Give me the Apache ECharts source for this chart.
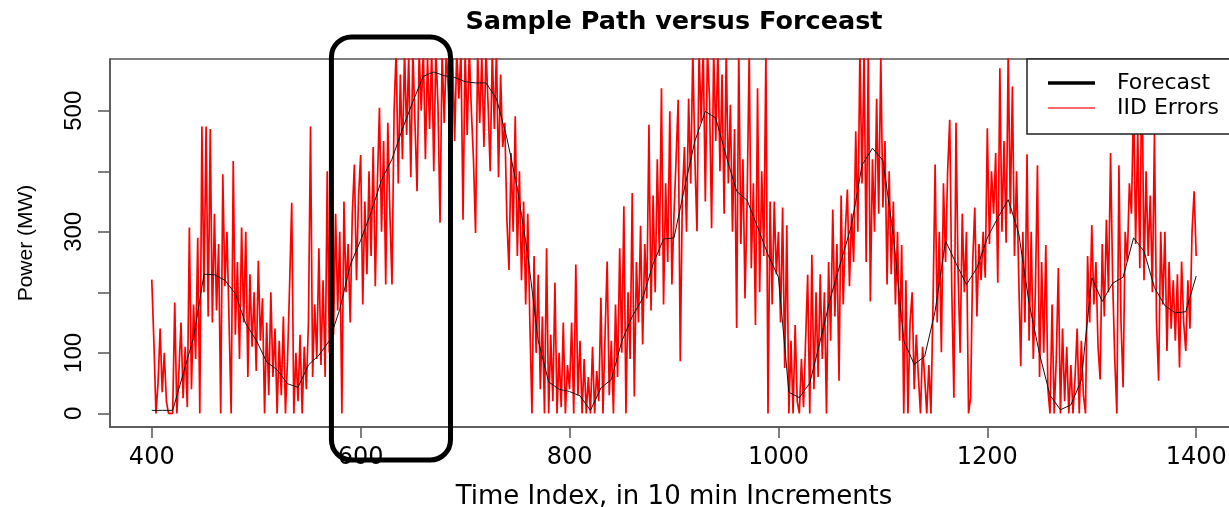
<!DOCTYPE html>
<html><head><meta charset="utf-8">
<script src="https://cdn.jsdelivr.net/npm/echarts@6/dist/echarts.min.js"></script>
<style>html,body{margin:0;padding:0;background:#fff}#c{width:1229px;height:507px}</style>
</head><body><div id="c"></div>
<script>
const titleText = 'Sample Path versus Forceast';
const xName = 'Time Index, in 10 min Increments';
const yName = 'Power (MW)';
const xTicks = [400, 600, 800, 1000, 1200, 1400];
const yTicks = [0, 100, 200, 300, 400, 500];
const yTickLabels = [0, 100, 300, 500];
const seriesNames = ['Forecast', 'IID Errors'];

// Forecast: time index 400..1400, every 10
const forecastStart = 400, forecastStep = 10;
const forecastValues = [
  5,5,5,65,125,230,229,220,198,148,
  121,85,72,49,43,80,96,120,172,245,
  286,332,386,420,470,515,557,564,558,555,
  548,546,546,520,455,372,262,120,52,40,
  36,29,5,42,56,119,160,190,247,288,
  290,372,450,499,488,425,367,352,308,262,
  225,35,26,50,120,192,252,311,410,438,
  418,295,120,81,94,169,285,248,213,240,
  290,323,353,298,182,98,30,6,14,55,
  224,185,215,225,290,268,208,178,166,168,
  227
];

// Sample path with IID errors: time index 400..1400, every 2
const errorStart = 400, errorStep = 2;
const errorValues = [
  221,120,0,50,140,35,100,20,0,0,
  0,183,0,70,150,25,110,10,307,40,
  180,90,290,0,474,200,474,160,470,150,
  330,170,280,0,395,210,300,150,0,417,
  130,250,90,307,150,300,60,230,110,200,
  70,252,120,190,0,150,30,200,60,140,
  0,120,30,160,0,90,214,348,0,100,
  20,130,0,110,40,150,474,60,180,90,
  273,80,220,60,400,100,250,130,330,170,
  300,0,350,200,280,150,330,411,220,360,
  427,180,350,230,400,260,440,210,380,505,
  300,450,213,480,330,213,500,600,380,560,
  420,600,460,590,390,600,480,367,600,500,
  600,420,590,470,600,400,600,510,315,600,
  480,600,530,394,600,450,600,520,600,320,
  600,460,600,500,420,298,600,480,590,440,
  600,510,400,600,470,600,390,560,440,480,
  320,237,430,300,491,260,400,220,350,180,
  330,150,0,260,100,229,40,160,0,273,
  0,130,20,216,0,100,10,150,0,80,
  40,150,0,246,30,120,0,90,0,60,
  0,110,0,70,20,191,0,130,251,30,
  120,0,180,60,273,100,342,0,200,90,
  364,28,250,150,310,114,280,190,477,170,
  360,200,420,260,537,180,380,250,499,213,
  330,420,518,86,360,440,300,520,380,600,
  420,301,600,480,600,350,600,520,306,600,
  450,600,400,560,330,600,380,510,300,470,
  141,600,280,420,190,350,600,240,380,146,
  537,200,400,260,600,0,350,180,350,230,
  300,150,340,75,311,0,120,0,146,20,
  0,90,10,120,229,0,262,40,200,60,
  230,90,200,0,250,120,337,160,280,54,
  360,180,300,370,210,330,250,466,300,600,
  380,600,250,600,185,420,300,520,330,590,
  340,450,213,400,230,350,180,300,120,278,
  0,220,0,150,200,40,130,60,0,110,
  60,0,80,0,180,411,150,300,101,380,
  250,400,485,200,26,480,230,100,330,200,
  300,0,26,250,340,160,280,220,300,224,
  471,280,400,330,430,216,570,300,450,282,
  600,330,540,260,400,230,78,300,150,428,
  120,300,90,200,410,60,250,100,278,40,
  0,180,0,90,240,0,140,20,110,0,
  80,0,60,140,0,120,30,0,260,150,
  311,180,250,110,56,280,160,320,200,430,
  220,90,0,410,150,43,300,251,380,330,
  520,280,466,240,600,220,400,260,360,200,
  463,150,54,300,180,300,103,250,140,220,
  120,230,76,251,150,103,220,140,300,367,
  260
];

// Highlight box annotation (in data units: time index / MW)
const annotationBox = { t0: 572, t1: 686, v0: -77, v1: 622 };

const forecastData = forecastValues.map((v, i) => [forecastStart + i * forecastStep, v]);
const errorData = errorValues.map((v, i) => [errorStart + i * errorStep, v]);

const chart = echarts.init(document.getElementById('c'), null, { renderer: 'canvas' });
const frameColor = '#555';
chart.setOption({
  animation: false,
  backgroundColor: '#fff',
  title: {
    text: titleText, left: 674, top: 9, textAlign: 'center', padding: 0,
    textStyle: { fontFamily: 'DejaVu Sans', fontWeight: 'bold', fontSize: 25.5, color: '#000' }
  },
  grid: {
    left: 110, top: 59, width: 1128, height: 368, containLabel: false, outerBoundsMode: 'none',
    show: true, borderColor: frameColor, borderWidth: 1.5, backgroundColor: 'transparent'
  },
  legend: {
    orient: 'vertical', left: 1027, top: 59, selectedMode: false,
    padding: [13, 70, 15, 21], itemGap: 3, itemWidth: 47, itemHeight: 22,
    backgroundColor: '#fff', borderColor: '#222', borderWidth: 1.5,
    textStyle: { fontFamily: 'DejaVu Sans', fontSize: 22, color: '#000', padding: [0, 0, 0, 17] },
    data: [
      { name: seriesNames[0], icon: 'path://M0,0H47V3.5H0Z', itemStyle: { color: '#000' } },
      { name: seriesNames[1], icon: 'path://M0,0H47V2H0Z', itemStyle: { color: '#ff6a6a' } }
    ]
  },
  xAxis: {
    type: 'value', min: 360, max: 1440,
    axisLine: { show: true, onZero: false, lineStyle: { color: frameColor, width: 1.5 } },
    axisTick: { show: true, length: 11, customValues: xTicks, lineStyle: { color: frameColor, width: 1.5 } },
    axisLabel: { customValues: xTicks, margin: 19, formatter: v => String(v), fontFamily: 'DejaVu Sans', fontSize: 24, color: '#000' },
    splitLine: { show: false },
    name: xName, nameLocation: 'middle', nameGap: 57,
    nameTextStyle: { fontFamily: 'DejaVu Sans', fontSize: 26, color: '#000' }
  },
  yAxis: {
    type: 'value', min: -22.5, max: 585.5,
    axisLine: { show: true, onZero: false, lineStyle: { color: frameColor, width: 1.5 } },
    axisTick: { show: true, length: 12, customValues: yTicks, lineStyle: { color: frameColor, width: 1.5 } },
    axisLabel: { customValues: yTickLabels, rotate: 90, margin: 24, formatter: v => String(v), fontFamily: 'Liberation Sans', fontSize: 24, color: '#000' },
    splitLine: { show: false },
    name: yName, nameLocation: 'middle', nameRotate: 90, nameGap: 73,
    nameTextStyle: { fontFamily: 'Liberation Sans', fontSize: 21, color: '#000' }
  },
  series: [
    {
      name: seriesNames[1], type: 'line', data: errorData, symbol: 'none', showSymbol: false,
      color: '#ff0000', lineStyle: { color: '#ff0000', width: 1.7 }, z: 2, silent: true
    },
    {
      name: seriesNames[0], type: 'line', data: forecastData, symbol: 'none', showSymbol: false,
      color: '#000', lineStyle: { color: '#111', width: 1 }, z: 3, silent: true
    }
  ]
});

const p0 = chart.convertToPixel({ gridIndex: 0 }, [annotationBox.t0, annotationBox.v1]);
const p1 = chart.convertToPixel({ gridIndex: 0 }, [annotationBox.t1, annotationBox.v0]);
chart.setOption({
  graphic: [{
    type: 'rect', z: 100, silent: true,
    shape: { x: p0[0], y: p0[1], width: p1[0] - p0[0], height: p1[1] - p0[1], r: 20 },
    style: { fill: 'none', stroke: '#000', lineWidth: 5 }
  }]
});
</script>
</body></html>
